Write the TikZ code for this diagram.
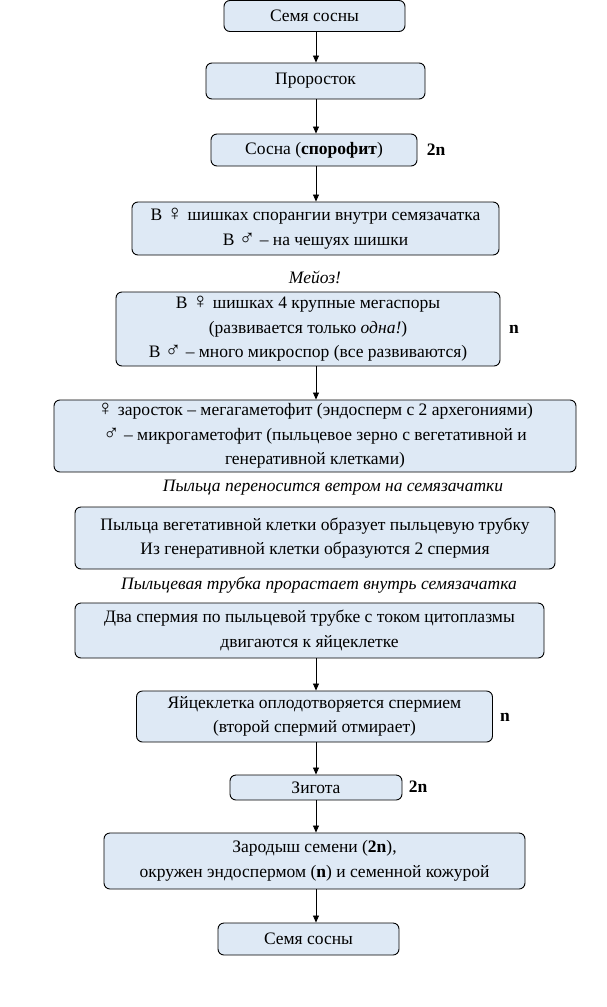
\documentclass[tikz,border=0pt]{standalone}
\usepackage{fontspec}
\setmainfont{Liberation Serif}
\usetikzlibrary{arrows.meta}
\definecolor{boxfill}{HTML}{DEE9F5}
\newcommand\fem{{\fontsize{22}{24}\selectfont ♀}}
\newcommand\mal{{\fontsize{22}{24}\selectfont ♂}}
\begin{document}
\begin{tikzpicture}[x=1pt,y=-1pt,
  box/.style={draw=black, line width=0.9pt, fill=boxfill, rounded corners=6pt,
    align=center, inner sep=0pt, font=\fontsize{17.5}{24.5}\selectfont},
  lbl/.style={font=\fontsize{17.5}{19}\selectfont\itshape, inner sep=0pt},
  ploid/.style={font=\fontsize{17.5}{19}\selectfont\bfseries, inner sep=0pt},
  arr/.style={line width=0.8pt, -{Triangle[width=6pt,length=7pt]}}]
\useasboundingbox (0,0) rectangle (606,1007);
\coordinate (ax) at (316,0);
\node[box, minimum width=181pt, minimum height=31pt] (b1) at (314.5,16) {Семя сосны};
\node[box, minimum width=219pt, minimum height=36pt] (b2) at (315.5,81) {Проросток};
\node[box, minimum width=206pt, minimum height=32pt] (b3) at (314,150) {Сосна (\textbf{спорофит})};
\node[ploid] (p3) at (436,150) {2n};
\node[box, minimum width=367pt, minimum height=53pt] (b4) at (315.5,228.5) {В \fem\ шишках спорангии внутри семязачатка\\В \mal\ – на чешуях шишки};
\node[lbl] (l1) at (315,277) {Мейоз!};
\node[box, minimum width=384pt, minimum height=74pt] (b5) at (308,329) {В \fem\ шишках 4 крупные мегаспоры\\(развивается только \textit{одна!})\\В \mal\ – много микроспор (все развиваются)};
\node[ploid] (p5) at (514,329) {n};
\node[box, minimum width=522pt, minimum height=72pt] (b6) at (315,436) {\fem\ заросток – мегагаметофит (эндосперм с 2 архегониями)\\\mal\ – микрогаметофит (пыльцевое зерно с вегетативной и\\генеративной клетками)};
\node[lbl] (l2) at (333,488) {Пыльца переносится ветром на семязачатки};
\node[box, minimum width=480pt, minimum height=62pt] (b7) at (315,538) {Пыльца вегетативной клетки образует пыльцевую трубку\\Из генеративной клетки образуются 2 спермия};
\node[lbl] (l3) at (319,585) {Пыльцевая трубка прорастает внутрь семязачатка};
\node[box, minimum width=469pt, minimum height=55pt] (b8) at (309.5,630.5) {Два спермия по пыльцевой трубке с током цитоплазмы\\двигаются к яйцеклетке};
\node[box, minimum width=356pt, minimum height=51pt] (b9) at (314.5,716.5) {Яйцеклетка оплодотворяется спермием\\(второй спермий отмирает)};
\node[ploid] (p9) at (505,717) {n};
\node[box, minimum width=172pt, minimum height=25pt] (b10) at (316,787.5) {Зигота};
\node[ploid] (p10) at (418,787) {2n};
\node[box, minimum width=421pt, minimum height=56pt] (b11) at (314.5,861) {Зародыш семени (\textbf{2n}),\\окружен эндоспермом (\textbf{n}) и семенной кожурой};
\node[box, minimum width=181pt, minimum height=32pt] (b12) at (308.5,939) {Семя сосны};
\draw[arr] (b1.south -| ax) -- (b2.north -| ax);
\draw[arr] (b2.south -| ax) -- (b3.north -| ax);
\draw[arr] (b3.south -| ax) -- (b4.north -| ax);
\draw[arr] (b5.south -| ax) -- (b6.north -| ax);
\draw[arr] (b8.south -| ax) -- (b9.north -| ax);
\draw[arr] (b9.south -| ax) -- (b10.north -| ax);
\draw[arr] (b10.south -| ax) -- (b11.north -| ax);
\draw[arr] (b11.south -| ax) -- (b12.north -| ax);
\end{tikzpicture}
\end{document}
